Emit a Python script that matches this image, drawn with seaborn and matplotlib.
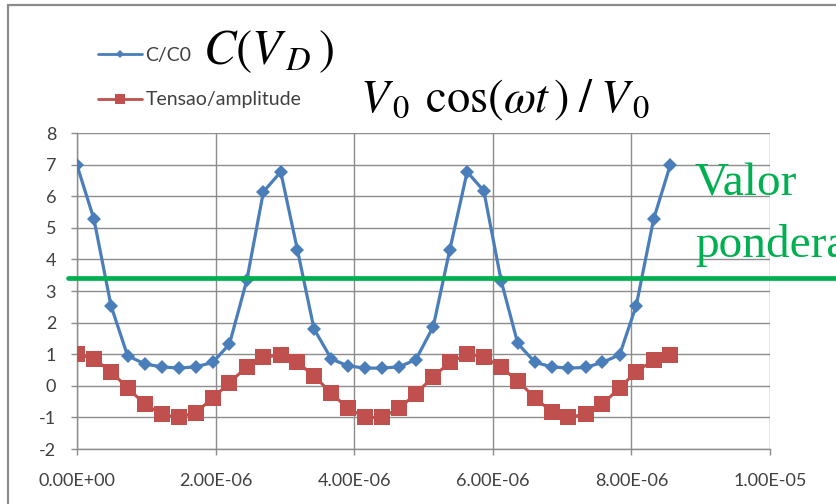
import numpy as np
import pandas as pd
import matplotlib
matplotlib.use("Agg")
import matplotlib.pyplot as plt
import matplotlib.transforms as mtransforms
from matplotlib.lines import Line2D
from matplotlib.patches import Rectangle
import seaborn as sns

# ---------------- data ----------------
time_us = [0.00, 0.245, 0.49, 0.73, 0.98, 1.22, 1.47, 1.71, 1.96, 2.20, 2.45, 2.69,
           2.94, 3.18, 3.42, 3.67, 3.91, 4.16, 4.40, 4.65, 4.89, 5.14, 5.38, 5.63,
           5.87, 6.12, 6.36, 6.61, 6.85, 7.09, 7.34, 7.58, 7.83, 8.07, 8.32, 8.56]
c_over_c0 = [6.98, 5.27, 2.54, 0.95, 0.69, 0.60, 0.56, 0.60, 0.74, 1.32, 3.34, 6.14,
             6.77, 4.31, 1.80, 0.85, 0.63, 0.56, 0.56, 0.60, 0.83, 1.87, 4.31, 6.77,
             6.17, 3.33, 1.34, 0.74, 0.60, 0.56, 0.58, 0.74, 0.98, 2.54, 5.27, 6.98]
tensao_amplitude = [1.00, 0.85, 0.45, -0.07, -0.58, -0.90, -1.00, -0.85, -0.39, 0.10, 0.60, 0.90,
                    0.98, 0.74, 0.32, -0.24, -0.71, -1.00, -1.00, -0.71, -0.25, 0.29, 0.74, 1.00,
                    0.92, 0.58, 0.16, -0.39, -0.82, -1.00, -0.90, -0.58, -0.07, 0.45, 0.81, 0.98]
weighted_value = 3.42

series_labels = ["C/C0", "Tensao/amplitude"]
x_ticks = [0, 2e-6, 4e-6, 6e-6, 8e-6, 1e-5]
x_tick_labels = ["0.00E+00", "2.00E-06", "4.00E-06", "6.00E-06", "8.00E-06", "1.00E-05"]
y_ticks = [-2, -1, 0, 1, 2, 3, 4, 5, 6, 7, 8]

# ---------------- style ----------------
blue = "#4A7EBB"
red = "#C0504D"
green = "#00B050"
grid_gray = "#8C8C8C"
text_gray = "#404040"

sns.set_theme(style="white")
plt.rcParams["font.family"] = ["Lato", "DejaVu Sans"]
plt.rcParams["mathtext.fontset"] = "stix"
plt.rcParams["axes.unicode_minus"] = False

W, H = 837, 504
fig = plt.figure(figsize=(W / 100, H / 100), dpi=100)
fig.patch.set_facecolor("white")
ax = fig.add_axes([77 / W, 1 - 449 / H, (770 - 77) / W, (449 - 133) / H])

df = pd.DataFrame({
    "t": np.array(time_us) * 1e-6,
    series_labels[0]: c_over_c0,
    series_labels[1]: tensao_amplitude,
})

sns.lineplot(data=df, x="t", y=series_labels[1], ax=ax, color=red, marker="s",
             markersize=11, markeredgewidth=0, linewidth=2.2, sort=False,
             errorbar=None, zorder=3)
sns.lineplot(data=df, x="t", y=series_labels[0], ax=ax, color=blue, marker="D",
             markersize=7.5, markeredgewidth=0, linewidth=2.3, sort=False,
             errorbar=None, zorder=4)

ax.set_xlim(0, 1e-5)
ax.set_ylim(-2, 8)
ax.set_xticks(x_ticks)
ax.set_xticklabels(x_tick_labels)
ax.set_yticks(y_ticks)
ax.set_yticklabels([str(v) for v in y_ticks])
ax.set_xlabel("")
ax.set_ylabel("")
ax.grid(True, color=grid_gray, linewidth=1.0)
ax.set_axisbelow(True)
for s in ["top", "right"]:
    ax.spines[s].set_visible(False)
for s in ["left", "bottom"]:
    ax.spines[s].set_color(grid_gray)
    ax.spines[s].set_linewidth(1.0)
ax.tick_params(axis="both", which="major", bottom=True, left=True, direction="out",
               length=4, width=1.0, color=grid_gray, labelcolor=text_gray, labelsize=13)
ax.tick_params(axis="x", pad=13.5)
ax.tick_params(axis="y", pad=11)
ax.set_facecolor("white")
if ax.get_legend():
    ax.get_legend().remove()

# legend
handles = [
    Line2D([], [], color=blue, marker="D", markersize=4.5, linewidth=2, markeredgewidth=0),
    Line2D([], [], color=red, marker="s", markersize=7, linewidth=2, markeredgewidth=0),
]
fig.legend(handles, series_labels, loc="upper left",
           bbox_to_anchor=(88 / W, 1 - 37 / H), frameon=False, fontsize=14,
           handlelength=2.3, handletextpad=0.15, labelspacing=1.42, borderpad=0,
           labelcolor=text_gray)

# weighted value line (extends beyond plot)
trans = mtransforms.blended_transform_factory(fig.transFigure, ax.transData)
fig.add_artist(Line2D([68 / W, 1.0], [weighted_value, weighted_value],
                      transform=trans, color=green, linewidth=3.4))

# annotations
fig.text(203 / W, 1 - 64 / H, r"$C(V_{\,D}\,)$", fontsize=35, color="black",
         ha="left", va="baseline")
fig.text(360 / W, 1 - 112 / H, r"$V_{\,0}\;\,\cos(\omega t\,)\;/\;V_{\,0}$", fontsize=33.5,
         color="black", ha="left", va="baseline")
fig.text(695 / W, 1 - 195 / H, "Valor", fontsize=34, color=green,
         family="Liberation Serif", ha="left", va="baseline")
fig.text(695 / W, 1 - 257 / H, "ponderado", fontsize=34, color=green,
         family="Liberation Serif", ha="left", va="baseline")

# outer chart frame
fig.add_artist(Rectangle((8 / W, -0.2), 1.5, 1.2 - 5 / H, transform=fig.transFigure,
                         fill=False, edgecolor="#8C8C8C", linewidth=1.6))

fig.savefig("out.png", dpi=100)
